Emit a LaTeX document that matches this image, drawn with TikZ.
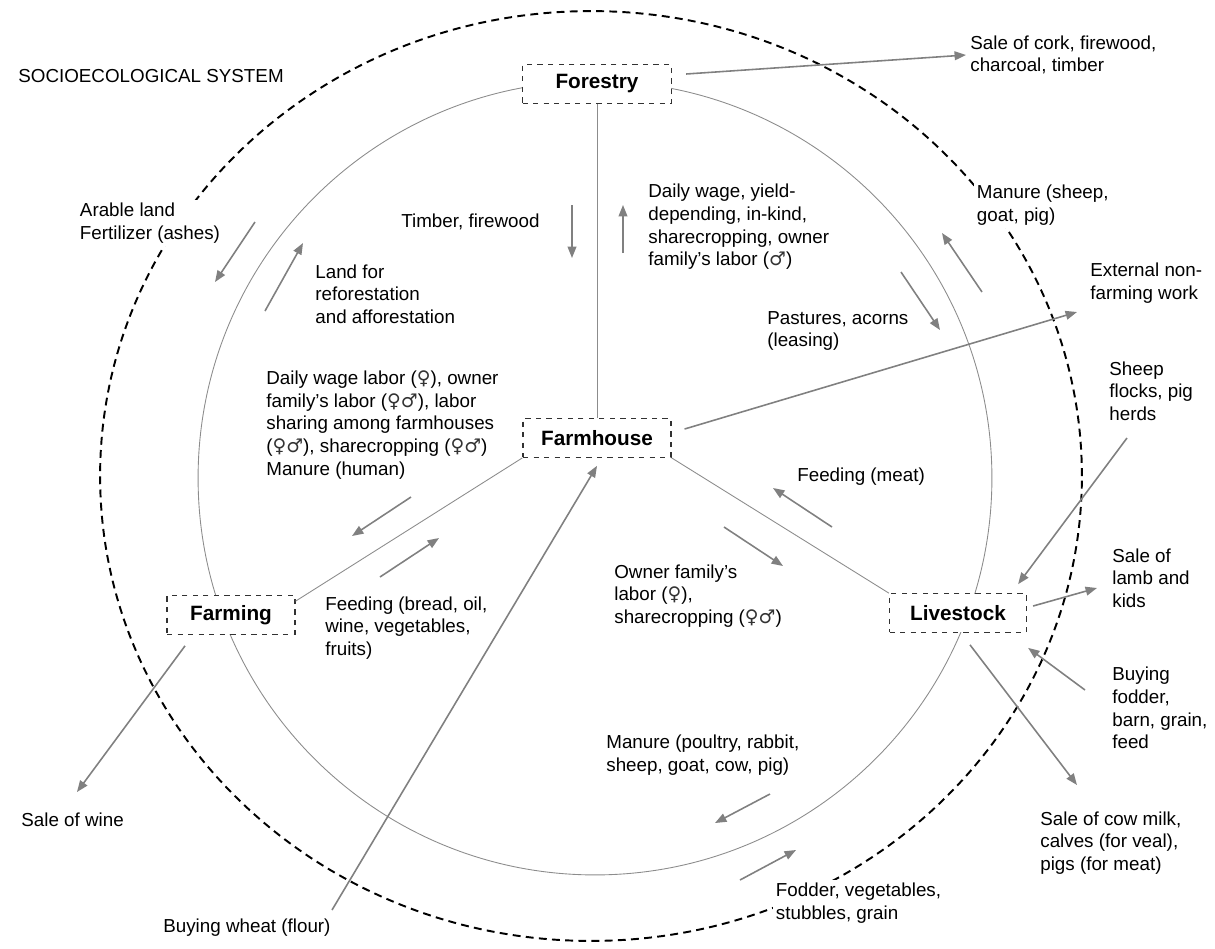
\documentclass[tikz,border=0pt]{standalone}
\usepackage{fontspec}
\setmainfont{Liberation Sans}
\newfontfamily\gsym{DejaVu Sans}
\usetikzlibrary{arrows.meta}

\definecolor{flowgray}{RGB}{128,128,128}
\definecolor{ringgray}{RGB}{140,140,140}
\definecolor{boxgray}{RGB}{50,50,50}

\newcommand\fem{{\gsym\color{black!80}♀}}
\newcommand\mal{{\gsym\color{black!80}♂}}

\tikzset{
  unit/.style={draw=boxgray, dashed, line width=0.7pt, fill=white,
    minimum height=0.77cm, inner sep=0pt,
    font=\bfseries\fontsize{11.8pt}{13pt}\selectfont},
  lab/.style={align=left, anchor=west, inner sep=0pt,
    font=\fontsize{10.7pt}{12.9pt}\selectfont},
  cover/.style={lab, fill=white, inner sep=1.5pt},
  flow/.style={draw=flowgray, line width=0.9pt,
    -{Triangle[length=6.5pt,width=5pt]}},
  link/.style={draw=ringgray, line width=0.5pt}
}

\begin{document}
\begin{tikzpicture}[x=0.02cm,y=-0.02cm]
\useasboundingbox (0,0) rectangle (1215,948);

% system border and inner ring
\draw [line width=1.1pt, dash pattern=on 4.5pt off 3pt] (591,476) ellipse [x radius=9.82cm, y radius=9.3cm];
\draw [link] (595,478) circle [radius=7.94cm];

\node [lab] (ses) at (18,76) {SOCIOECOLOGICAL SYSTEM};

% the four units
\node [unit, minimum width=2.98cm] (forestry) at (597,84) {Forestry};
\node [unit, minimum width=2.96cm] (farmhouse) at (597,438) {Farmhouse};
\node [unit, minimum width=2.56cm] (farming) at (231,615) {Farming};
\node [unit, minimum width=2.74cm] (livestock) at (958,613) {Livestock};

\draw [link] (forestry.south) -- (farmhouse.north);
\draw [link] (farmhouse.south west) -- ([yshift=-0.12cm]farming.north east);
\draw [link] (farmhouse.south east) -- (livestock.north west);

% labels
\node [lab] (cork) at (970,55) {Sale of cork, firewood,\\charcoal, timber};
\node [lab] (timber) at (401,222) {Timber, firewood};
\node [lab] (wage) at (648,227) {Daily wage, yield-\\depending, in-kind,\\sharecropping, owner\\family’s labor (\mal)};
\node [cover] (arable) at (77,223) {Arable land\\Fertilizer (ashes)};
\node [lab] (reforest) at (315,294) {Land for\\reforestation\\and afforestation};
\node [lab] (pastures) at (767,331) {Pastures, acorns\\(leasing)};
\node [cover] (manureup) at (974,205) {Manure (sheep,\\goat, pig)};
\node [lab] (external) at (1090,283) {External non-\\farming work};
\node [lab] (flocks) at (1109,391) {Sheep\\flocks, pig\\herds};
\node [lab] (labor) at (266,425) {Daily wage labor (\fem), owner\\family’s labor (\fem\mal), labor\\sharing among farmhouses\\(\fem\mal), sharecropping (\fem\mal)\\Manure (human)};
\node [lab] (meat) at (797,477) {Feeding (meat)};
\node [lab] (bread) at (325,628) {Feeding (bread, oil,\\wine, vegetables,\\fruits)};
\node [lab] (owner) at (614,596) {Owner family’s\\labor (\fem),\\sharecropping (\fem\mal)};
\node [lab] (lamb) at (1112,578) {Sale of\\lamb and\\kids};
\node [lab] (fodderbuy) at (1112,708) {Buying\\fodder,\\barn, grain,\\feed};
\node [lab] (wine) at (21,820) {Sale of wine};
\node [lab] (milk) at (1040,843) {Sale of cow milk,\\calves (for veal),\\pigs (for meat)};
\node [lab] (manuredown) at (606,755) {Manure (poultry, rabbit,\\sheep, goat, cow, pig)};
\node [cover] (stubbles) at (773,903) {Fodder, vegetables,\\stubbles, grain};
\node [lab] (wheat) at (163,928) {Buying wheat (flour)};

% free ends
\coordinate (extend) at (1077,312);
\coordinate (flockstail) at (1127,438);
\coordinate (lambend) at (1097,588);
\coordinate (buytail) at (1085,690);
\coordinate (milkend) at (1077,785);
\coordinate (wineend) at (77,792);
\coordinate (wheattail) at (332,910);

% flows to and from the units
\draw [flow] ([xshift=0.28cm,yshift=0.2cm]forestry.east) -- ([xshift=-0.08cm]cork.west);
\draw [flow] ([xshift=0.26cm,yshift=0.18cm]farmhouse.east) -- (extend);
\draw [flow] (flockstail) -- ([xshift=-0.18cm,yshift=0.18cm]livestock.north east);
\draw [flow] ([xshift=0.12cm,yshift=0.14cm]livestock.east) -- (lambend);
\draw [flow] (buytail) -- ([xshift=0.02cm,yshift=-0.3cm]livestock.south east);
\draw [flow] ([xshift=0.24cm,yshift=-0.24cm]livestock.south) -- (milkend);
\draw [flow] ([xshift=-0.92cm,yshift=-0.22cm]farming.south) -- (wineend);
\draw [flow] (wheattail) -- ([yshift=-0.16cm]farmhouse.south);

% flows along the links
\draw [flow] (572,205) -- (572,258);
\draw [flow] (623,253) -- (623,205);
\draw [flow] (255,222) -- (215,282);
\draw [flow] (265,311) -- (303,243);
\draw [flow] (901,272) -- (940,330);
\draw [flow] (982,292) -- (942,233);
\draw [flow] (411,497) -- (352,536);
\draw [flow] (380,577) -- (439,538);
\draw [flow] (832,527) -- (773,488);
\draw [flow] (724,527) -- (783,566);
\draw [flow] (770,794) -- (715,823);
\draw [flow] (740,880) -- (796,850);
\end{tikzpicture}
\end{document}
